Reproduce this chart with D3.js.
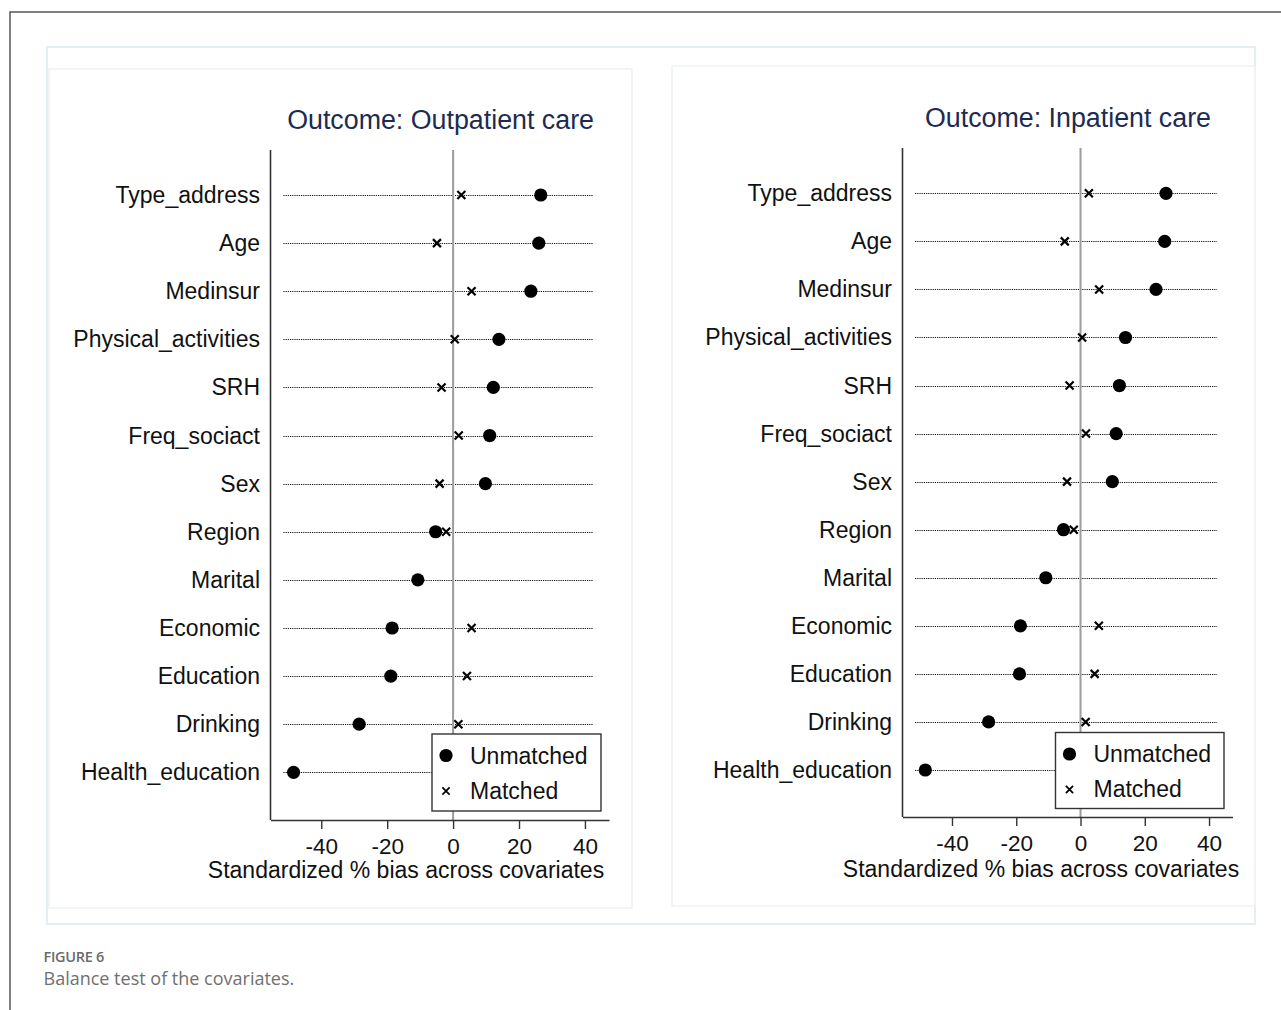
<!DOCTYPE html>
<html>
<head>
<meta charset="utf-8">
<script src="https://cdn.jsdelivr.net/npm/d3@7"></script>
<style>
  html, body { margin: 0; padding: 0; background: #ffffff; }
  svg { display: block; }
</style>
</head>
<body>
<svg id="fig" width="1281" height="1010"></svg>
<script>
// Covariates, top to bottom
const covariates = [
  "Type_address", "Age", "Medinsur", "Physical_activities", "SRH",
  "Freq_sociact", "Sex", "Region", "Marital", "Economic",
  "Education", "Drinking", "Health_education"
];

// Standardized % bias, outpatient care model
const outpatientUnmatched = [26.6, 26.0, 23.6, 13.9, 12.2, 11.1, 9.8, -5.3, -10.7, -18.5, -18.9, -28.5, -48.4];
const outpatientMatched   = [2.5, -4.9, 5.6, 0.5, -3.5, 1.7, -4.1, -2.1, -10.5, 5.6, 4.2, 1.6, 1.0];

// Standardized % bias, inpatient care model
const inpatientUnmatched = [26.6, 26.2, 23.5, 14.0, 12.1, 11.1, 9.9, -5.3, -10.8, -18.7, -19.0, -28.6, -48.3];
const inpatientMatched   = [2.6, -4.9, 5.8, 0.5, -3.4, 1.7, -4.2, -2.1, -10.6, 5.7, 4.4, 1.6, 1.0];

const xTicks = [-40, -20, 0, 20, 40];
const xDomain = [-55.4, 47.3];
const panelTitles = ["Outcome: Outpatient care", "Outcome: Inpatient care"];
const legendLabels = ["Unmatched", "Matched"];
const xAxisTitle = "Standardized % bias across covariates";

const svg = d3.select("#fig");
const FONT = "'Liberation Sans', Arial, Helvetica, sans-serif";

// Page frame
svg.append("path")
  .attr("d", "M10,1010V12H1281")
  .attr("fill", "none").attr("stroke", "#555").attr("stroke-width", 1.5);

svg.append("rect")
  .attr("x", 47).attr("y", 47).attr("width", 1208).attr("height", 877)
  .attr("fill", "#ffffff").attr("stroke", "#e6edf0").attr("stroke-width", 2);

// Panel geometry
const panels = [
  {
    box: [49, 69, 583, 839],
    x0: 270.5, x1: 609, yTop: 150, yBot: 820,
    rowFirst: 195, rowLast: 772.3,
    labelX: 260, titleRight: 594, titleY: 128.5, axisTitleX: 406, axisTitleY: 878,
    legend: [432, 734, 169, 77],
    unmatched: outpatientUnmatched, matched: outpatientMatched, title: panelTitles[0]
  },
  {
    box: [672, 66, 583, 840],
    x0: 902.5, x1: 1232.5, yTop: 148, yBot: 817,
    rowFirst: 193.3, rowLast: 770,
    labelX: 892, titleRight: 1211, titleY: 126.5, axisTitleX: 1041, axisTitleY: 877,
    legend: [1055.5, 732.5, 168.5, 76],
    unmatched: inpatientUnmatched, matched: inpatientMatched, title: panelTitles[1]
  }
];

function cross(g, cx, cy, h, w) {
  g.append("path")
    .attr("d", `M${cx - h},${cy - h}L${cx + h},${cy + h}M${cx - h},${cy + h}L${cx + h},${cy - h}`)
    .attr("stroke", "#000").attr("stroke-width", w).attr("fill", "none");
}

panels.forEach(p => {
  const g = svg.append("g");

  g.append("rect")
    .attr("x", p.box[0]).attr("y", p.box[1]).attr("width", p.box[2]).attr("height", p.box[3])
    .attr("fill", "#ffffff").attr("stroke", "#eef2f4").attr("stroke-width", 1.5);

  const x = d3.scaleLinear().domain(xDomain).range([p.x0, p.x1]);
  const y = d3.scalePoint().domain(covariates).range([p.rowFirst, p.rowLast]);

  // Title
  g.append("text")
    .attr("x", p.titleRight).attr("y", p.titleY)
    .attr("text-anchor", "end")
    .attr("font-family", FONT).attr("font-size", 26.8).attr("fill", "#1c2b52")
    .text(p.title);

  // Dotted guide lines
  g.selectAll("line.guide").data(covariates).join("line")
    .attr("class", "guide")
    .attr("x1", x(-51.5)).attr("x2", x(42.5))
    .attr("y1", d => Math.round(y(d)) + 0.5).attr("y2", d => Math.round(y(d)) + 0.5)
    .attr("stroke", "#111").attr("stroke-width", 1.2)
    .attr("stroke-dasharray", "1.2,1");

  // Reference line at zero
  g.append("line")
    .attr("x1", x(0)).attr("x2", x(0)).attr("y1", p.yTop).attr("y2", p.yBot)
    .attr("stroke", "#9c9c9c").attr("stroke-width", 2);

  // Covariate labels
  g.selectAll("text.cov").data(covariates).join("text")
    .attr("class", "cov")
    .attr("x", p.labelX).attr("y", d => y(d) + 8)
    .attr("text-anchor", "end")
    .attr("font-family", FONT).attr("font-size", 23).attr("fill", "#111")
    .text(d => d);

  // Unmatched: filled dots
  g.selectAll("circle.um").data(covariates).join("circle")
    .attr("class", "um")
    .attr("cx", (d, i) => x(p.unmatched[i])).attr("cy", d => y(d))
    .attr("r", 6.6).attr("fill", "#000");

  // Matched: crosses
  covariates.forEach((c, i) => cross(g, x(p.matched[i]), y(c), 4, 2.2));

  // Y axis line
  g.append("line")
    .attr("x1", p.x0).attr("x2", p.x0).attr("y1", p.yTop).attr("y2", p.yBot)
    .attr("stroke", "#333").attr("stroke-width", 1.6);

  // X axis
  const ax = g.append("g")
    .attr("transform", `translate(0,${p.yBot})`)
    .call(d3.axisBottom(x).tickValues(xTicks).tickFormat(d => String(d))
      .tickSize(9).tickSizeOuter(0).tickPadding(9.5));
  ax.select(".domain").attr("stroke", "#333").attr("stroke-width", 1.6);
  ax.selectAll(".tick line").attr("stroke", "#333").attr("stroke-width", 1.4);
  ax.selectAll(".tick text")
    .attr("font-family", FONT).attr("font-size", 22.5).attr("fill", "#111");

  g.append("text")
    .attr("x", p.axisTitleX).attr("y", p.axisTitleY)
    .attr("text-anchor", "middle")
    .attr("font-family", FONT).attr("font-size", 23).attr("fill", "#111")
    .text(xAxisTitle);

  // Legend
  const [lx, ly, lw, lh] = p.legend;
  const lg = g.append("g");
  lg.append("rect")
    .attr("x", lx).attr("y", ly).attr("width", lw).attr("height", lh)
    .attr("fill", "#ffffff").attr("stroke", "#333").attr("stroke-width", 1.4);
  lg.append("circle").attr("cx", lx + 14).attr("cy", ly + 21.5).attr("r", 6.6).attr("fill", "#000");
  cross(lg, lx + 14, ly + 57, 3.6, 1.8);
  lg.selectAll("text").data(legendLabels).join("text")
    .attr("x", lx + 38).attr("y", (d, i) => ly + 29.5 + i * 35)
    .attr("font-family", FONT).attr("font-size", 23).attr("fill", "#111")
    .text(d => d);
});

// Caption
svg.append("text")
  .attr("x", 43.5).attr("y", 962)
  .attr("font-family", "'Open Sans', sans-serif").attr("font-size", 14.5)
  .attr("font-weight", 600).attr("fill", "#6a6a6a")
  .attr("letter-spacing", -0.3)
  .text("FIGURE 6");
svg.append("text")
  .attr("x", 43.5).attr("y", 985)
  .attr("font-family", "'Open Sans', sans-serif").attr("font-size", 18)
  .attr("fill", "#707070")
  .text("Balance test of the covariates.");
</script>
</body>
</html>
